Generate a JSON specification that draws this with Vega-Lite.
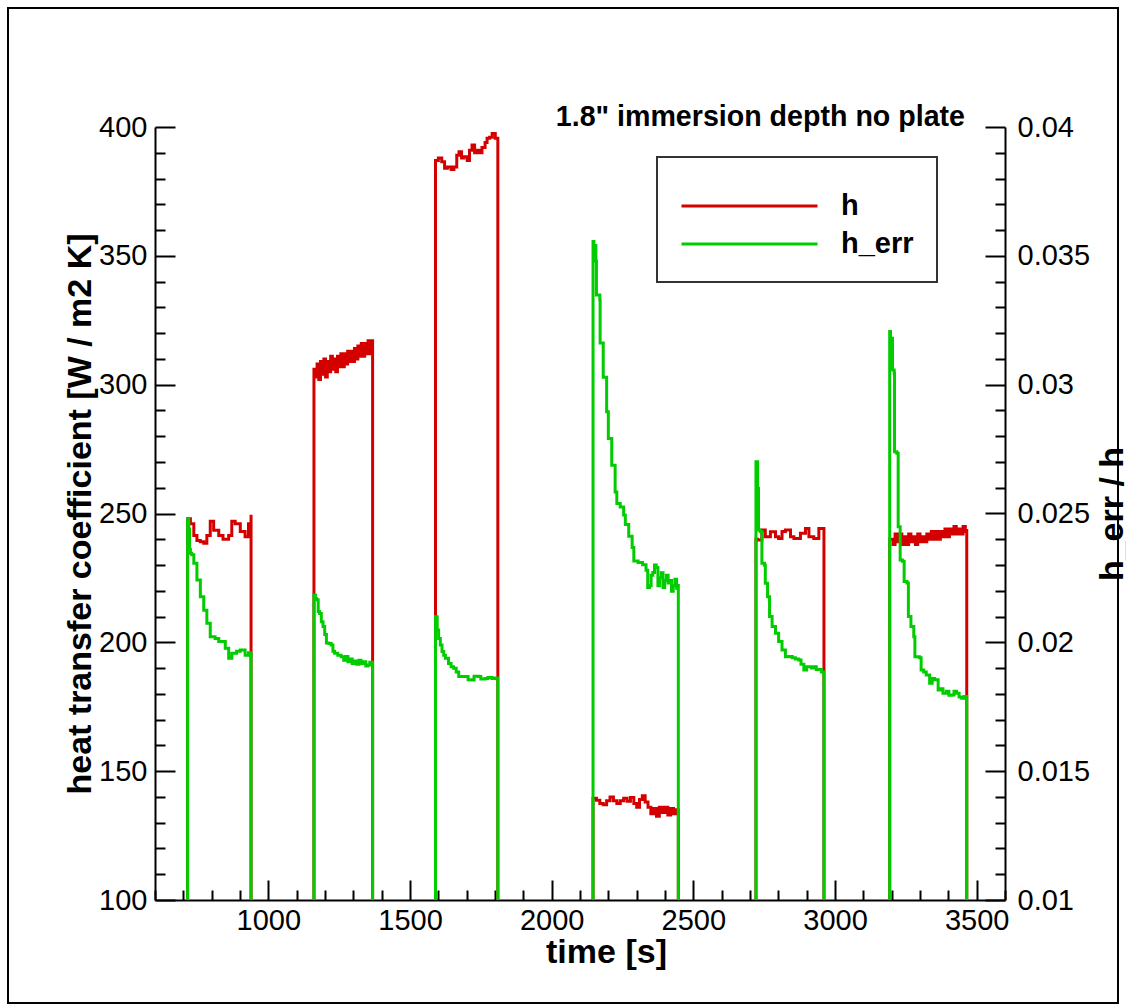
{
"$schema": "https://vega.github.io/schema/vega-lite/v6.json",
"width": 1110, "height": 995,
"autosize": {"type": "none"},
"padding": {"left": 8, "top": 8, "right": 8, "bottom": 2},
"background": "white",
"title": {"text": "1.8\" immersion depth no plate", "anchor": "end", "frame": "group", "fontSize": 28.6, "fontWeight": "bold", "font": "Liberation Sans", "color": "#000", "baseline": "alphabetic", "offset": 0, "dy": 146.6, "dx": -153},
"datasets": {
"h": [
{"g":1,"t":715,"v":100},{"g":1,"t":715,"v":248},{"g":1,"t":725,"v":246},{"g":1,"t":737,"v":241.5},{"g":1,"t":748,"v":239.5},{"g":1,"t":760,"v":239},{"g":1,"t":772,"v":238.5},{"g":1,"t":783,"v":241.5},{"g":1,"t":795,"v":247},{"g":1,"t":807,"v":243.5},{"g":1,"t":825,"v":241.5},{"g":1,"t":840,"v":240},{"g":1,"t":848,"v":240},{"g":1,"t":860,"v":241.5},{"g":1,"t":871,"v":247},{"g":1,"t":883,"v":246},{"g":1,"t":901,"v":243},{"g":1,"t":918,"v":241},{"g":1,"t":930,"v":246},{"g":1,"t":939,"v":249.5},{"g":1,"t":939,"v":100},
{"g":2,"t":1161,"v":100},{"g":2,"t":1161,"v":306},{"g":2,"t":1166,"v":303},{"g":2,"t":1172,"v":308},{"g":2,"t":1178,"v":302},{"g":2,"t":1184,"v":309},{"g":2,"t":1190,"v":304},{"g":2,"t":1196,"v":310},{"g":2,"t":1202,"v":303},{"g":2,"t":1208,"v":309},{"g":2,"t":1214,"v":305},{"g":2,"t":1220,"v":311},{"g":2,"t":1226,"v":306},{"g":2,"t":1232,"v":310},{"g":2,"t":1238,"v":305},{"g":2,"t":1244,"v":311},{"g":2,"t":1250,"v":307},{"g":2,"t":1256,"v":312},{"g":2,"t":1262,"v":307},{"g":2,"t":1268,"v":312},{"g":2,"t":1274,"v":308},{"g":2,"t":1280,"v":313},{"g":2,"t":1286,"v":309},{"g":2,"t":1292,"v":313},{"g":2,"t":1298,"v":309},{"g":2,"t":1304,"v":314},{"g":2,"t":1310,"v":310},{"g":2,"t":1316,"v":315},{"g":2,"t":1322,"v":311},{"g":2,"t":1328,"v":316},{"g":2,"t":1334,"v":311},{"g":2,"t":1340,"v":316},{"g":2,"t":1346,"v":312},{"g":2,"t":1352,"v":317},{"g":2,"t":1358,"v":312},{"g":2,"t":1363,"v":317},{"g":2,"t":1368,"v":315},{"g":2,"t":1368,"v":100},
{"g":3,"t":1590,"v":100},{"g":3,"t":1590,"v":387},{"g":3,"t":1600,"v":388},{"g":3,"t":1612,"v":386.5},{"g":3,"t":1622,"v":384},{"g":3,"t":1632,"v":384.5},{"g":3,"t":1645,"v":383.5},{"g":3,"t":1655,"v":384.5},{"g":3,"t":1665,"v":389},{"g":3,"t":1673,"v":390.4},{"g":3,"t":1682,"v":388},{"g":3,"t":1690,"v":388.5},{"g":3,"t":1702,"v":387},{"g":3,"t":1710,"v":391},{"g":3,"t":1719,"v":393},{"g":3,"t":1728,"v":390},{"g":3,"t":1737,"v":391},{"g":3,"t":1746,"v":390},{"g":3,"t":1754,"v":392},{"g":3,"t":1765,"v":394},{"g":3,"t":1772,"v":395.6},{"g":3,"t":1781,"v":396},{"g":3,"t":1790,"v":397.5},{"g":3,"t":1801,"v":395.6},{"g":3,"t":1810,"v":395.6},{"g":3,"t":1810,"v":100},
{"g":4,"t":2146,"v":100},{"g":4,"t":2146,"v":139.5},{"g":4,"t":2158,"v":138.7},{"g":4,"t":2170,"v":137.5},{"g":4,"t":2182,"v":137},{"g":4,"t":2194,"v":138.5},{"g":4,"t":2206,"v":140},{"g":4,"t":2218,"v":138.5},{"g":4,"t":2230,"v":137.5},{"g":4,"t":2242,"v":138.5},{"g":4,"t":2254,"v":139.5},{"g":4,"t":2266,"v":138.3},{"g":4,"t":2278,"v":139.8},{"g":4,"t":2290,"v":137.5},{"g":4,"t":2300,"v":136},{"g":4,"t":2310,"v":139},{"g":4,"t":2320,"v":140.5},{"g":4,"t":2330,"v":138},{"g":4,"t":2340,"v":136},{"g":4,"t":2350,"v":133.5},{"g":4,"t":2360,"v":135.5},{"g":4,"t":2370,"v":132.5},{"g":4,"t":2380,"v":136},{"g":4,"t":2390,"v":134},{"g":4,"t":2400,"v":136},{"g":4,"t":2410,"v":133},{"g":4,"t":2420,"v":135.5},{"g":4,"t":2430,"v":133.5},{"g":4,"t":2440,"v":135},{"g":4,"t":2447,"v":134},{"g":4,"t":2447,"v":100},
{"g":5,"t":2721,"v":100},{"g":5,"t":2721,"v":240},{"g":5,"t":2727,"v":239.7},{"g":5,"t":2742,"v":243.6},{"g":5,"t":2754,"v":241},{"g":5,"t":2772,"v":242.9},{"g":5,"t":2790,"v":241},{"g":5,"t":2801,"v":240.3},{"g":5,"t":2813,"v":243},{"g":5,"t":2825,"v":243.6},{"g":5,"t":2843,"v":241},{"g":5,"t":2855,"v":240.3},{"g":5,"t":2878,"v":242.3},{"g":5,"t":2896,"v":244.2},{"g":5,"t":2908,"v":241},{"g":5,"t":2925,"v":240.3},{"g":5,"t":2943,"v":244.2},{"g":5,"t":2961,"v":244.2},{"g":5,"t":2961,"v":100},
{"g":6,"t":3193,"v":100},{"g":6,"t":3193,"v":240},{"g":6,"t":3198,"v":240},{"g":6,"t":3205,"v":238},{"g":6,"t":3212,"v":242},{"g":6,"t":3220,"v":239},{"g":6,"t":3228,"v":242},{"g":6,"t":3236,"v":238},{"g":6,"t":3244,"v":241},{"g":6,"t":3252,"v":238},{"g":6,"t":3260,"v":242},{"g":6,"t":3268,"v":239},{"g":6,"t":3276,"v":241},{"g":6,"t":3284,"v":238},{"g":6,"t":3292,"v":242},{"g":6,"t":3300,"v":239},{"g":6,"t":3308,"v":241},{"g":6,"t":3316,"v":239},{"g":6,"t":3324,"v":242},{"g":6,"t":3332,"v":240},{"g":6,"t":3340,"v":243},{"g":6,"t":3348,"v":240},{"g":6,"t":3356,"v":243},{"g":6,"t":3364,"v":240},{"g":6,"t":3372,"v":243},{"g":6,"t":3380,"v":241},{"g":6,"t":3388,"v":244},{"g":6,"t":3396,"v":241},{"g":6,"t":3404,"v":244},{"g":6,"t":3412,"v":242},{"g":6,"t":3420,"v":245},{"g":6,"t":3428,"v":242},{"g":6,"t":3436,"v":244},{"g":6,"t":3444,"v":242},{"g":6,"t":3452,"v":245},{"g":6,"t":3460,"v":243},{"g":6,"t":3465,"v":244},{"g":6,"t":3465,"v":100}
],
"e": [
{"g":1,"t":715,"v":0.01},{"g":1,"t":715,"v":0.0248},{"g":1,"t":719,"v":0.0244},{"g":1,"t":722,"v":0.0236},{"g":1,"t":725,"v":0.02346},{"g":1,"t":730,"v":0.0234},{"g":1,"t":737,"v":0.02307},{"g":1,"t":748,"v":0.02242},{"g":1,"t":760,"v":0.02177},{"g":1,"t":772,"v":0.02125},{"g":1,"t":783,"v":0.02074},{"g":1,"t":795,"v":0.02022},{"g":1,"t":812,"v":0.02015},{"g":1,"t":825,"v":0.02003},{"g":1,"t":848,"v":0.01977},{"g":1,"t":860,"v":0.01938},{"g":1,"t":871,"v":0.01958},{"g":1,"t":888,"v":0.01965},{"g":1,"t":901,"v":0.0197},{"g":1,"t":918,"v":0.0195},{"g":1,"t":930,"v":0.0196},{"g":1,"t":939,"v":0.01938},{"g":1,"t":939,"v":0.01},
{"g":2,"t":1161,"v":0.01},{"g":2,"t":1161,"v":0.02184},{"g":2,"t":1166,"v":0.0217},{"g":2,"t":1170,"v":0.02165},{"g":2,"t":1176,"v":0.0212},{"g":2,"t":1181,"v":0.02112},{"g":2,"t":1187,"v":0.0208},{"g":2,"t":1193,"v":0.02061},{"g":2,"t":1199,"v":0.0203},{"g":2,"t":1205,"v":0.01997},{"g":2,"t":1214,"v":0.01995},{"g":2,"t":1222,"v":0.0199},{"g":2,"t":1228,"v":0.01965},{"g":2,"t":1234,"v":0.01958},{"g":2,"t":1245,"v":0.0195},{"g":2,"t":1257,"v":0.01944},{"g":2,"t":1266,"v":0.0193},{"g":2,"t":1272,"v":0.01945},{"g":2,"t":1281,"v":0.01925},{"g":2,"t":1290,"v":0.01935},{"g":2,"t":1296,"v":0.01918},{"g":2,"t":1304,"v":0.01928},{"g":2,"t":1312,"v":0.01915},{"g":2,"t":1320,"v":0.0193},{"g":2,"t":1327,"v":0.01918},{"g":2,"t":1336,"v":0.01925},{"g":2,"t":1344,"v":0.01908},{"g":2,"t":1351,"v":0.01912},{"g":2,"t":1358,"v":0.01923},{"g":2,"t":1368,"v":0.01918},{"g":2,"t":1368,"v":0.01},
{"g":3,"t":1590,"v":0.01},{"g":3,"t":1590,"v":0.02099},{"g":3,"t":1596,"v":0.02048},{"g":3,"t":1601,"v":0.02015},{"g":3,"t":1607,"v":0.0199},{"g":3,"t":1613,"v":0.01964},{"g":3,"t":1619,"v":0.0195},{"g":3,"t":1625,"v":0.01938},{"g":3,"t":1636,"v":0.01918},{"g":3,"t":1645,"v":0.01905},{"g":3,"t":1654,"v":0.01899},{"g":3,"t":1663,"v":0.01885},{"g":3,"t":1672,"v":0.01867},{"g":3,"t":1695,"v":0.01867},{"g":3,"t":1705,"v":0.01855},{"g":3,"t":1718,"v":0.01854},{"g":3,"t":1726,"v":0.01868},{"g":3,"t":1742,"v":0.01867},{"g":3,"t":1750,"v":0.01858},{"g":3,"t":1765,"v":0.0186},{"g":3,"t":1775,"v":0.01864},{"g":3,"t":1789,"v":0.0186},{"g":3,"t":1800,"v":0.01862},{"g":3,"t":1810,"v":0.01854},{"g":3,"t":1810,"v":0.01},
{"g":4,"t":2146,"v":0.01},{"g":4,"t":2146,"v":0.03556},{"g":4,"t":2149,"v":0.0352},{"g":4,"t":2152,"v":0.0354},{"g":4,"t":2156,"v":0.0348},{"g":4,"t":2158,"v":0.03348},{"g":4,"t":2170,"v":0.0333},{"g":4,"t":2171,"v":0.03162},{"g":4,"t":2182,"v":0.03029},{"g":4,"t":2194,"v":0.02895},{"g":4,"t":2200,"v":0.02791},{"g":4,"t":2212,"v":0.02687},{"g":4,"t":2224,"v":0.02583},{"g":4,"t":2230,"v":0.02539},{"g":4,"t":2242,"v":0.02525},{"g":4,"t":2254,"v":0.02494},{"g":4,"t":2260,"v":0.02457},{"g":4,"t":2272,"v":0.02412},{"g":4,"t":2284,"v":0.02368},{"g":4,"t":2290,"v":0.02316},{"g":4,"t":2305,"v":0.0231},{"g":4,"t":2321,"v":0.02301},{"g":4,"t":2333,"v":0.0228},{"g":4,"t":2339,"v":0.02213},{"g":4,"t":2345,"v":0.0222},{"g":4,"t":2351,"v":0.0226},{"g":4,"t":2357,"v":0.02271},{"g":4,"t":2363,"v":0.023},{"g":4,"t":2369,"v":0.0229},{"g":4,"t":2375,"v":0.0222},{"g":4,"t":2381,"v":0.0225},{"g":4,"t":2387,"v":0.0227},{"g":4,"t":2393,"v":0.02213},{"g":4,"t":2399,"v":0.0224},{"g":4,"t":2405,"v":0.0226},{"g":4,"t":2411,"v":0.0223},{"g":4,"t":2417,"v":0.0224},{"g":4,"t":2423,"v":0.02198},{"g":4,"t":2429,"v":0.0222},{"g":4,"t":2435,"v":0.02245},{"g":4,"t":2441,"v":0.0221},{"g":4,"t":2447,"v":0.02226},{"g":4,"t":2447,"v":0.01},
{"g":5,"t":2721,"v":0.01},{"g":5,"t":2721,"v":0.02701},{"g":5,"t":2727,"v":0.02598},{"g":5,"t":2730,"v":0.02436},{"g":5,"t":2736,"v":0.0243},{"g":5,"t":2742,"v":0.02307},{"g":5,"t":2751,"v":0.023},{"g":5,"t":2754,"v":0.02229},{"g":5,"t":2762,"v":0.02177},{"g":5,"t":2769,"v":0.021},{"g":5,"t":2778,"v":0.02061},{"g":5,"t":2790,"v":0.02035},{"g":5,"t":2801,"v":0.02003},{"g":5,"t":2813,"v":0.0197},{"g":5,"t":2825,"v":0.01944},{"g":5,"t":2837,"v":0.01945},{"g":5,"t":2849,"v":0.0194},{"g":5,"t":2860,"v":0.01935},{"g":5,"t":2872,"v":0.01931},{"g":5,"t":2880,"v":0.01915},{"g":5,"t":2890,"v":0.01893},{"g":5,"t":2900,"v":0.01905},{"g":5,"t":2908,"v":0.01905},{"g":5,"t":2917,"v":0.019},{"g":5,"t":2925,"v":0.01905},{"g":5,"t":2934,"v":0.01895},{"g":5,"t":2943,"v":0.01895},{"g":5,"t":2952,"v":0.01885},{"g":5,"t":2961,"v":0.0188},{"g":5,"t":2961,"v":0.01},
{"g":6,"t":3193,"v":0.01},{"g":6,"t":3193,"v":0.03206},{"g":6,"t":3196,"v":0.0312},{"g":6,"t":3199,"v":0.0318},{"g":6,"t":3203,"v":0.03057},{"g":6,"t":3209,"v":0.03044},{"g":6,"t":3210,"v":0.0274},{"g":6,"t":3218,"v":0.02734},{"g":6,"t":3223,"v":0.02449},{"g":6,"t":3230,"v":0.0232},{"g":6,"t":3238,"v":0.02315},{"g":6,"t":3244,"v":0.02236},{"g":6,"t":3254,"v":0.0223},{"g":6,"t":3259,"v":0.021},{"g":6,"t":3268,"v":0.02061},{"g":6,"t":3278,"v":0.02022},{"g":6,"t":3282,"v":0.01944},{"g":6,"t":3298,"v":0.0194},{"g":6,"t":3304,"v":0.01893},{"g":6,"t":3313,"v":0.01885},{"g":6,"t":3322,"v":0.01873},{"g":6,"t":3334,"v":0.01841},{"g":6,"t":3343,"v":0.0186},{"g":6,"t":3352,"v":0.01855},{"g":6,"t":3364,"v":0.01815},{"g":6,"t":3372,"v":0.0182},{"g":6,"t":3381,"v":0.01802},{"g":6,"t":3393,"v":0.0181},{"g":6,"t":3402,"v":0.01795},{"g":6,"t":3411,"v":0.01796},{"g":6,"t":3420,"v":0.0181},{"g":6,"t":3429,"v":0.01802},{"g":6,"t":3438,"v":0.01788},{"g":6,"t":3447,"v":0.01783},{"g":6,"t":3456,"v":0.0179},{"g":6,"t":3465,"v":0.01776},{"g":6,"t":3465,"v":0.01}
]
},
"layer": [
{
"data": {"name": "h"},
"mark": {"type": "line", "strokeWidth": 3, "clip": true, "interpolate": "step-after"},
"encoding": {
"x": {"field": "t", "type": "quantitative", "scale": {"domain": [600, 3600], "range": [147, 997], "nice": false, "zero": false},
 "axis": {"orient": "bottom", "title": "time [s]", "values": [1000, 1500, 2000, 2500, 3000, 3500], "format": "d", "offset": -103,
  "tickSize": -20, "labelOverlap": false, "labelPadding": 26, "titleX": 598, "titleY": 62, "titleAlign": "center", "titleBaseline": "alphabetic"}},
"y": {"field": "v", "type": "quantitative", "scale": {"domain": [100, 400], "range": [892, 119], "nice": false, "zero": false},
 "axis": {"orient": "left", "offset": -147, "title": "heat transfer coefficient [W / m2 K]", "values": [100,110,120,130,140,150,160,170,180,190,200,210,220,230,240,250,260,270,280,290,300,310,320,330,340,350,360,370,380,390,400],
  "labelExpr": "datum.value % 50 === 0 ? format(datum.value, 'd') : ''",
  "tickSize": {"condition": {"test": "datum.value % 50 === 0", "value": -20}, "value": -10},
  "labelOverlap": false, "labelPadding": 28, "titleAngle": 270, "titleX": -65, "titleY": 505.5, "titleAlign": "center", "titleBaseline": "alphabetic"}},
"detail": {"field": "g", "type": "nominal"},
"order": {"value": null},
"color": {"datum": "h", "type": "nominal", "scale": {"domain": ["h", "h_err"], "range": ["#d40000", "#00cc00"]},
 "legend": {"orient": "none", "legendX": 649, "legendY": 149, "title": " ", "titleFontSize": 8, "titlePadding": 4, "padding": 23, "strokeColor": "#333333", "fillColor": "white",
  "symbolType": "stroke", "symbolSize": 18496, "symbolStrokeWidth": 3, "clipHeight": 28, "rowPadding": 9,
  "labelFontSize": 29, "labelFontWeight": "bold", "labelFont": "Liberation Sans", "labelColor": "#000", "labelOffset": 22, "labelBaseline": "middle"}}
}
},
{
"data": {"name": "e"},
"mark": {"type": "line", "strokeWidth": 3, "clip": true, "interpolate": "step-after"},
"encoding": {
"x": {"field": "t", "type": "quantitative", "scale": {"domain": [600, 3600], "range": [147, 997], "nice": false, "zero": false},
 "axis": {"orient": "bottom", "title": null, "values": [600,700,800,900,1100,1200,1300,1400,1600,1700,1800,1900,2100,2200,2300,2400,2600,2700,2800,2900,3100,3200,3300,3400,3600], "labels": false, "domain": false, "offset": -103, "tickSize": -10}},
"y": {"field": "v", "type": "quantitative", "scale": {"domain": [0.01, 0.04], "range": [892, 119], "nice": false, "zero": false},
 "axis": {"orient": "right", "offset": -113, "title": "h_err / h", "values": [0.01,0.011,0.012,0.013,0.014,0.015,0.016,0.017,0.018,0.019,0.02,0.021,0.022,0.023,0.024,0.025,0.026,0.027,0.028,0.029,0.03,0.031,0.032,0.033,0.034,0.035,0.036,0.037,0.038,0.039,0.04],
  "labelExpr": "round(datum.value * 1000) % 5 === 0 ? format(datum.value, '.3~f') : ''",
  "tickSize": {"condition": {"test": "round(datum.value * 1000) % 5 === 0", "value": -20}, "value": -10},
  "labelOverlap": false, "labelPadding": 32, "titleAngle": 270, "titleX": 117, "titleY": 505.5, "titleAlign": "center", "titleBaseline": "alphabetic"}},
"detail": {"field": "g", "type": "nominal"},
"order": {"value": null},
"color": {"datum": "h_err", "type": "nominal"}
}
}
],
"resolve": {"scale": {"y": "independent"}, "axis": {"x": "independent"}},
"config": {
"view": {"stroke": "#000", "strokeWidth": 2},
"axis": {"domainColor": "#000", "domainWidth": 2, "tickColor": "#000", "tickWidth": 2, "labelColor": "#000", "labelFont": "Liberation Sans", "labelFontSize": 29, "titleFont": "Liberation Sans", "titleFontSize": 34, "titleFontWeight": "bold", "titleColor": "#000", "grid": false, "labelFlush": false, "labelOverlap": false, "labelBound": false},
"legend": {"strokeWidth": 2}
}
}
